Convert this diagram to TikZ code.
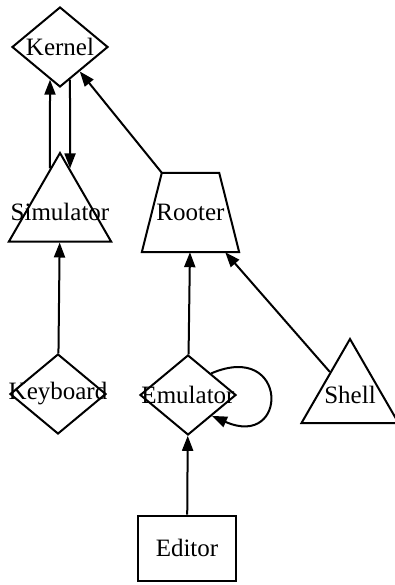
\documentclass[tikz,border=0pt]{standalone}
\usepackage{fontspec}
\setmainfont{Liberation Serif}
\usetikzlibrary{shapes.geometric,arrows.meta}
\begin{document}
\begin{tikzpicture}[x=1pt,y=-1pt,
  every node/.style={font=\fontsize{25}{29}\selectfont},
  shp/.style={draw, line width=2pt, inner sep=0pt},
  dia/.style={shp, diamond, minimum width=96pt, minimum height=80pt},
  tri/.style={shp, regular polygon, regular polygon sides=3},
  arr/.style={line width=2pt, -{Triangle[length=15pt,width=11pt]}}]
\useasboundingbox (0,0) rectangle (395,585);
\node (kernel) [dia, label={center:Kernel}] at (60,47) {};
\node (sim) [tri, minimum size=118pt, label={center:Simulator}] at (60,212) {};
\node (rooter) [inner sep=0pt, minimum width=97pt, minimum height=79pt] at (190.5,212.5) {Rooter};
\draw[line width=2pt, line join=miter] (rooter.south west) -- (rooter.south east)
  -- ([xshift=-20pt]rooter.north east) -- ([xshift=20pt]rooter.north west) -- cycle;
\coordinate (rtl) at ([xshift=20pt]rooter.north west);
\node (kbd) [dia, label={center:Keyboard}] at (58,394) {};
\node (emul) [dia, label={center:Emulator}] at (188,395) {};
\node (shell) [tri, minimum size=112pt, label={center:Shell}] at (350,395) {};
\node (editor) [shp, rectangle, minimum width=98pt, minimum height=65pt] at (187,548) {Editor};
\draw[arr] (sim.103) -- (kernel.-107);
\draw[arr] (kernel.-73) -- (sim.77);
\draw[arr] (rtl) -- (kernel);
\draw[arr] (kbd) -- (sim);
\draw[arr] (emul) -- (rooter);
\draw[arr] (shell) -- (rooter);
\draw[arr] (editor) -- (emul);
\draw[arr] (emul.43) .. controls (289,340) and (289,450) .. (emul.-41);
\end{tikzpicture}
\end{document}
